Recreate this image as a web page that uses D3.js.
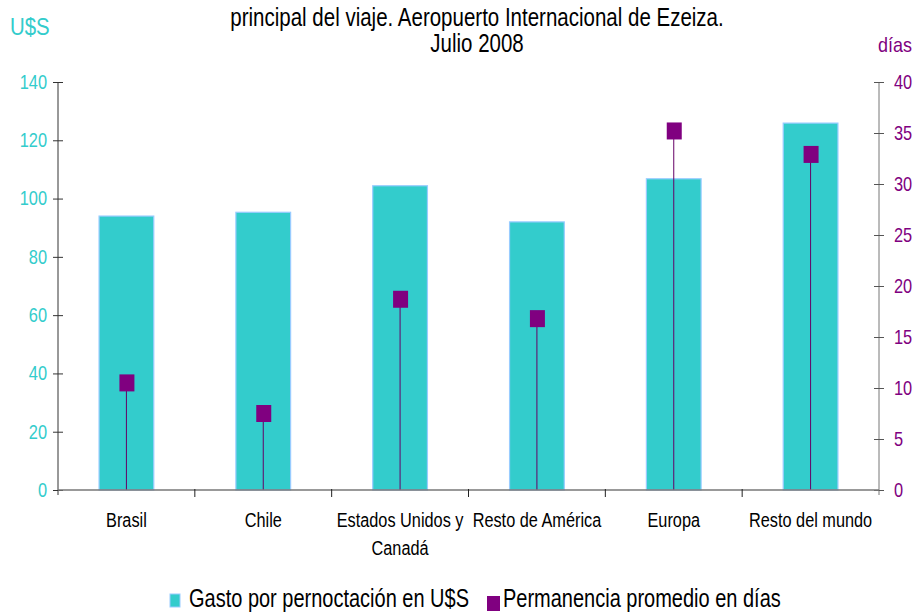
<!DOCTYPE html>
<html>
<head>
<meta charset="utf-8">
<script src="https://cdn.jsdelivr.net/npm/d3@7"></script>
<style>
  body { margin: 0; background: #fff; }
  svg { display: block; font-family: "Liberation Sans", Arial, sans-serif; }
</style>
</head>
<body>
<svg id="chart" width="916" height="612"></svg>
<script>
const categories = ["Brasil", "Chile", "Estados Unidos y Canadá", "Resto de América", "Europa", "Resto del mundo"];
const gasto = [94.0, 95.3, 104.4, 92.0, 106.8, 125.9];
const permanencia = [10.5, 7.5, 18.7, 16.8, 35.2, 32.9];
const leftTicks = [0, 20, 40, 60, 80, 100, 120, 140];
const rightTicks = [0, 5, 10, 15, 20, 25, 30, 35, 40];
const titleLines = ["principal del viaje. Aeropuerto Internacional de Ezeiza.", "Julio 2008"];
const legendLabels = ["Gasto por pernoctación en U$S", "Permanencia promedio en días"];

const teal = "#33cccc", purple = "#800080";
const margin = { top: 82, right: 37, bottom: 122, left: 58 };
const width = 916, height = 612;

const svg = d3.select("#chart");

// the original uses a narrow sans; no narrow face here, so squeeze the glyphs horizontally
function squeeze(sel, k) {
  sel.each(function() {
    const t = d3.select(this);
    const tx = +t.attr("x") || 0, ty = +t.attr("y") || 0;
    t.attr("x", 0).attr("y", 0).attr("transform", `translate(${tx},${ty}) scale(${k},1)`);
  });
}

const x = d3.scaleBand()
  .domain(categories)
  .range([margin.left, width - margin.right])
  .paddingInner(0).paddingOuter(0);

const yL = d3.scaleLinear().domain([0, 140]).range([height - margin.bottom, margin.top]);
const yR = d3.scaleLinear().domain([0, 40]).range([height - margin.bottom, margin.top]);

// bars
const barW = x.bandwidth() * 0.4;
svg.append("g").selectAll("rect")
  .data(categories)
  .join("rect")
  .attr("x", d => x(d) + (x.bandwidth() - barW) / 2)
  .attr("y", (d, i) => yL(gasto[i]))
  .attr("width", barW)
  .attr("height", (d, i) => yL(0) - yL(gasto[i]))
  .attr("fill", teal)
  .attr("stroke", "#99ccff")
  .attr("stroke-width", 1.2);

// drop lines + markers
const cx = d => x(d) + x.bandwidth() / 2;
svg.append("g").selectAll("line")
  .data(categories)
  .join("line")
  .attr("x1", cx).attr("x2", cx)
  .attr("y1", (d, i) => yR(permanencia[i]))
  .attr("y2", yR(0))
  .attr("stroke", "#660066")
  .attr("stroke-width", 1);

svg.append("g").selectAll("rect")
  .data(categories)
  .join("rect")
  .attr("x", d => cx(d) - 7)
  .attr("y", (d, i) => yR(permanencia[i]) - 8.5)
  .attr("width", 15)
  .attr("height", 17)
  .attr("fill", purple);

// left axis
const axL = svg.append("g")
  .attr("transform", `translate(${margin.left},0)`)
  .call(d3.axisLeft(yL).tickValues(leftTicks).tickSize(5).tickPadding(6));
axL.select(".domain").attr("stroke", "#333").attr("d", `M0,${margin.top}V${height - margin.bottom + 5}`);
axL.selectAll(".tick line").attr("x1", -5).attr("x2", 5).attr("stroke", "#333");
axL.selectAll(".tick text").attr("fill", teal).attr("font-size", 20).attr("font-family", null);
squeeze(axL.selectAll(".tick text"), 0.82);

// right axis
const axR = svg.append("g")
  .attr("transform", `translate(${width - margin.right},0)`)
  .call(d3.axisRight(yR).tickValues(rightTicks).tickSize(5).tickPadding(10));
axR.select(".domain").attr("stroke", "#777").attr("d", `M0,${margin.top}V${height - margin.bottom + 5}`);
axR.selectAll(".tick line").attr("x1", -5).attr("x2", 5).attr("stroke", "#555");
axR.selectAll(".tick text").attr("fill", purple).attr("font-size", 20).attr("font-family", null);
squeeze(axR.selectAll(".tick text"), 0.82);

// bottom axis
const axB = svg.append("g")
  .attr("transform", `translate(0,${height - margin.bottom})`)
  .call(d3.axisBottom(x).tickSize(0).tickPadding(0));
axB.select(".domain").attr("stroke", "#777").attr("stroke-width", 1.5).attr("d", `M${margin.left},0H${width - margin.right}`);
axB.selectAll(".tick text").remove();
// boundary ticks between categories
svg.append("g").selectAll("line")
  .data(categories.slice(1))
  .join("line")
  .attr("x1", d => x(d)).attr("x2", d => x(d))
  .attr("y1", yL(0) - 1).attr("y2", yL(0) + 7)
  .attr("stroke", "#222");

// category labels (wrapped)
const wrap = { "Estados Unidos y Canadá": ["Estados Unidos y", "Canadá"] };
const lbl = svg.append("g").attr("font-size", 20).attr("fill", "#000");
categories.forEach(c => {
  (wrap[c] || [c]).forEach((l, j) => {
    lbl.append("text").attr("text-anchor", "middle")
      .attr("x", cx(c)).attr("y", 527 + j * 28).text(l);
  });
});
squeeze(lbl.selectAll("text"), 0.815);

// title
const title = svg.append("g").selectAll("text")
  .data(titleLines)
  .join("text")
  .attr("x", 477)
  .attr("y", (d, i) => 26 + i * 26)
  .attr("text-anchor", "middle")
  .attr("font-size", 25)
  .text(d => d);
squeeze(title, 0.82);

// axis titles
const usd = svg.append("text").attr("x", 10).attr("y", 35).attr("fill", teal).attr("font-size", 24).text("U$S");
squeeze(usd, 0.85);
const dias = svg.append("text").attr("x", 878).attr("y", 52).attr("fill", purple).attr("font-size", 20).text("días");
squeeze(dias, 0.9);

// legend
const lg = svg.append("g").attr("font-size", 25);
lg.append("rect").attr("x", 170).attr("y", 594).attr("width", 10).attr("height", 13).attr("fill", teal).attr("stroke", "#99ccff");
lg.append("text").attr("x", 189).attr("y", 607).text(legendLabels[0]);
lg.append("rect").attr("x", 487).attr("y", 596).attr("width", 13).attr("height", 15).attr("fill", purple);
lg.append("text").attr("x", 503).attr("y", 607).text(legendLabels[1]);
squeeze(lg.selectAll("text"), 0.8);
</script>
</body>
</html>
